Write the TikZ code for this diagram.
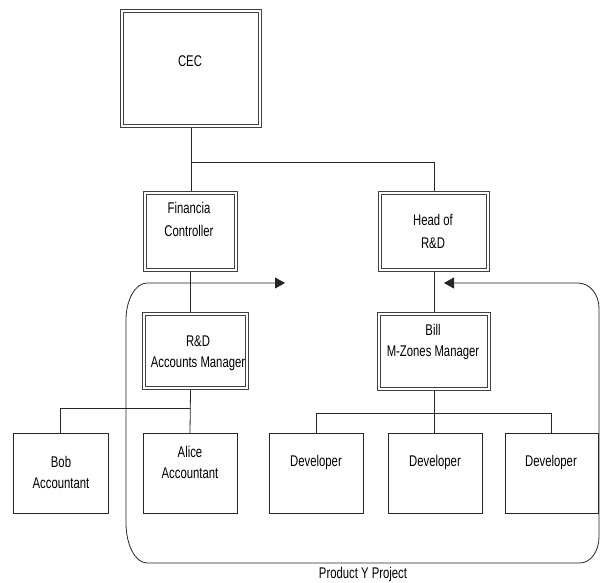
\documentclass[tikz,border=0pt]{standalone}
\usepackage{fontspec}
\setmainfont[FakeStretch=0.73]{Liberation Sans}
\usetikzlibrary{arrows.meta}
\begin{document}
\begin{tikzpicture}[x=1pt,y=-1pt,
  lw/.style={line width=0.8pt,draw=black!85},
  dbox/.style={draw=black!75,line width=0.9pt,double=white,double distance=2pt,
    inner sep=0pt,outer sep=1.9pt},
  sbox/.style={lw,inner sep=0pt,outer sep=0pt},
  txt/.style={font=\fontsize{15.5}{21}\selectfont,align=center,inner sep=0pt},
  >={Triangle[length=10pt,width=11pt]}
]
\useasboundingbox (0,0) rectangle (600,583);

% management boxes (double border)
\node[dbox,minimum width=138.2pt,minimum height=115.2pt] (ceo)  at (191,68.5) {};
\node[dbox,minimum width=91.2pt,minimum height=77.2pt]   (fc)   at (190.5,231.5) {};
\node[dbox,minimum width=108.2pt,minimum height=77.2pt]  (head) at (434,231.5) {};
\node[dbox,minimum width=103.2pt,minimum height=74.2pt]  (rdam) at (195.5,351) {};
\node[dbox,minimum width=110.2pt,minimum height=75.2pt]  (bill) at (434,351.5) {};

% staff boxes (single border)
\node[sbox,minimum width=95pt,minimum height=80pt] (bob)   at (60.5,473) {};
\node[sbox,minimum width=94pt,minimum height=80pt] (alice) at (190,473) {};
\node[sbox,minimum width=94pt,minimum height=80pt] (dev1)  at (316,473) {};
\node[sbox,minimum width=94pt,minimum height=80pt] (dev2)  at (435,473) {};
\node[sbox,minimum width=93pt,minimum height=80pt] (dev3)  at (551.5,473) {};

% texts
\node[txt] (ceo-t)   at (190,61)  {CEC};
\node[txt] (fc-t)    at (189,219) {Financia\\[2pt]Controller};
\node[txt] (head-t)  at (433,231.5) {Head of\\[2pt]R\&D};
\node[txt] (rdam-t)  at (198,353) {R\&D\\Accounts Manager};
\node[txt] (bill-t)  at (433,342) {Bill\\M-Zones Manager};
\node[txt] (bob-t)   at (61,472)  {Bob\\Accountant};
\node[txt] (alice-t) at (190,462) {Alice\\Accountant};
\node[txt] (dev1-t)  at (316,462) {Developer};
\node[txt] (dev2-t)  at (435,462) {Developer};
\node[txt] (dev3-t)  at (551,462) {Developer};
\node[txt] (proj-t)  at (363,574) {Product Y Project};

% reporting lines
\coordinate (j1) at (191,162);
\coordinate (j2) at (190,408);
\coordinate (j3) at (434,413);
\draw[lw] (ceo.south) -- (ceo.south |- fc.north);
\draw[lw] (j1) -| (head.north);
\draw[lw] (fc.south) -- (fc.south |- rdam.north);
\draw[lw] (head.south) -- (bill.south |- bill.north);
\draw[lw] (rdam.south -| fc.south) -- (alice.north);
\draw[lw] (j2) -| (bob.north);
\draw[lw] (bill.south) -- (bill.south |- dev2.north);
\draw[lw] (j3) -| (dev1.north);
\draw[lw] (j3) -| (dev3.north);

% project boundary with inward arrows
\coordinate (pa) at (285,283);
\coordinate (pb) at (444,283);
\draw[lw,<->] (pa) -- (147,283)
  .. controls (135.4,283) and (126,299.6) .. (126,320)
  -- (126,523)
  .. controls (126,545) and (135.4,563) .. (147,563)
  -- (580,563)
  .. controls (590.5,563) and (599,551.4) .. (599,537)
  -- (599,308)
  .. controls (599,294.2) and (589.6,283) .. (578,283)
  -- (pb);
\end{tikzpicture}
\end{document}
